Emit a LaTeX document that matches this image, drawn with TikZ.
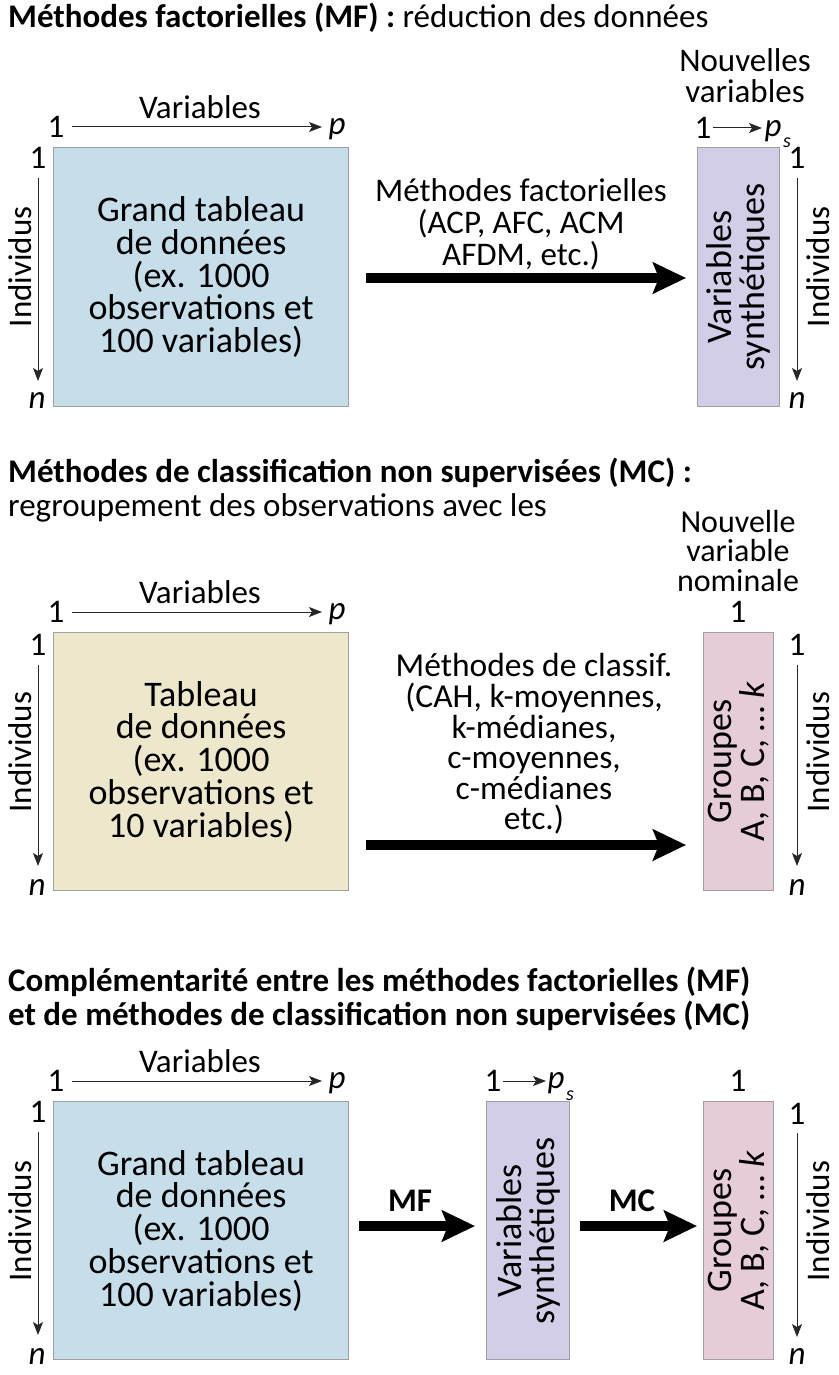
\documentclass[tikz,border=0pt]{standalone}
\usepackage{fontspec}
\setmainfont{Carlito}
\usetikzlibrary{arrows.meta}
\definecolor{cblue}{HTML}{C6DDEA}
\definecolor{clav}{HTML}{D3CEE7}
\definecolor{cbeige}{HTML}{EDE7CB}
\definecolor{cpink}{HTML}{E6CBD9}
\definecolor{cborder}{HTML}{A0A0A0}
\tikzset{
  tbl/.style={draw=cborder, line width=1.2pt, inner sep=0pt, align=center,
    font=\fontsize{36}{32.8}\selectfont},
  lbl/.style={inner sep=0pt, font=\fontsize{33}{32}\selectfont},
  sub/.style={inner sep=0pt, font=\fontsize{20}{20}\selectfont\itshape},
  mtxt/.style={inner sep=0pt, align=center, font=\fontsize{33}{32}\selectfont},
  rtxt/.style={inner sep=0pt, align=center, rotate=90, font=\fontsize{36}{33}\selectfont},
  ttl/.style={inner sep=0pt, anchor=west, font=\fontsize{33}{34}\selectfont},
  thinarrow/.style={draw=black!85, line width=1pt, -{Stealth[length=13pt,width=10pt,inset=3pt]}},
  bigarrow/.style={draw=black, line width=9.5pt, -{Stealth[length=33pt,width=31pt,inset=6pt]}},
}
\begin{document}
\begin{tikzpicture}[x=1pt,y=-1pt]
\useasboundingbox (0,0) rectangle (838,1375);
% ---------------- Section 1 ----------------
\node[ttl] (t1) at (8,18) {\textbf{Méthodes factorielles (MF) :} réduction des données};
\node[tbl, fill=cblue, minimum width=295pt, minimum height=259pt, anchor=north west] (B1) at (53,147)
  {Grand tableau\\de données\\(ex. 1000\\observations et\\100 variables)};
\node[lbl] (v1) at (200,107) {Variables};
\node[lbl] (o1) at (56,127) {1};
\node[lbl] (p1) at (337,129) {\textit{p}};
\draw[thinarrow] (72,127) -- (322,127);
\node[lbl] (l1a) at (38,158) {1};
\node[lbl] (l1n) at (37,401) {\textit{n}};
\draw[thinarrow] (38,178) -- (38,381);
\node[lbl, rotate=90] (i1l) at (20,267) {Individus};
\node[mtxt] (m1) at (521,224) {Méthodes factorielles\\(ACP, AFC, ACM\\AFDM, etc.)};
\draw[bigarrow] (366,278) -- (686,278);
\node[tbl, fill=clav, minimum width=82pt, minimum height=259pt, anchor=north west] (S1) at (697,147) {};
\node[rtxt] (s1t) at (S1.center) {Variables\\synthétiques};
\node[mtxt, font=\fontsize{33}{31}\selectfont] (nv1) at (745,76) {Nouvelles\\variables};
\node[lbl] (o1r) at (703,128) {1};
\node[lbl] (ps1) at (773,131) {\textit{p}};
\node[sub] (ps1s) at (787,143) {s};
\draw[thinarrow] (713,128) -- (762,128);
\node[lbl] (r1a) at (797,158) {1};
\node[lbl] (r1n) at (797,401) {\textit{n}};
\draw[thinarrow] (797,178) -- (797,381);
\node[lbl, rotate=90] (i1r) at (818,267) {Individus};
% ---------------- Section 2 ----------------
\node[ttl] (t2a) at (8,473) {\textbf{Méthodes de classification non supervisées (MC) :}};
\node[ttl] (t2b) at (8,508) {regroupement des observations avec les};
\node[tbl, fill=cbeige, minimum width=295pt, minimum height=258pt, anchor=north west] (B2) at (53,632)
  {Tableau\\de données\\(ex. 1000\\observations et\\10 variables)};
\node[lbl] (v2) at (200,592) {Variables};
\node[lbl] (o2) at (56,612) {1};
\node[lbl] (p2) at (337,614) {\textit{p}};
\draw[thinarrow] (72,612) -- (322,612);
\node[lbl] (l2a) at (38,645) {1};
\node[lbl] (l2n) at (37,887) {\textit{n}};
\draw[thinarrow] (38,665) -- (38,866);
\node[lbl, rotate=90] (i2l) at (20,752) {Individus};
\node[mtxt, font=\fontsize{33.5}{30.6}\selectfont] (m2) at (534,744)
  {Méthodes de classif.\\(CAH, k-moyennes,\\k-médianes,\\c-moyennes,\\c-médianes\\etc.)};
\draw[bigarrow] (366,845) -- (686,845);
\node[tbl, fill=cpink, minimum width=70pt, minimum height=258pt, anchor=north west] (G2) at (703,632) {};
\node[rtxt] (g2t) at (G2.center) {Groupes\\A, B, C, … \textit{k}};
\node[mtxt, font=\fontsize{32}{29.5}\selectfont] (nv2) at (738,551) {Nouvelle\\variable\\nominale};
\node[lbl] (o2r) at (738,612) {1};
\node[lbl] (r2a) at (797,645) {1};
\node[lbl] (r2n) at (797,887) {\textit{n}};
\draw[thinarrow] (797,665) -- (797,866);
\node[lbl, rotate=90] (i2r) at (818,752) {Individus};
% ---------------- Section 3 ----------------
\node[ttl] (t3a) at (8,982) {\textbf{Complémentarité entre les méthodes factorielles (MF)}};
\node[ttl] (t3b) at (8,1016) {\textbf{et de méthodes de classification non supervisées (MC)}};
\node[tbl, fill=cblue, minimum width=295pt, minimum height=258pt, anchor=north west] (B3) at (53,1101)
  {Grand tableau\\de données\\(ex. 1000\\observations et\\100 variables)};
\node[lbl] (v3) at (200,1061) {Variables};
\node[lbl] (o3) at (56,1081) {1};
\node[lbl] (p3) at (337,1083) {\textit{p}};
\draw[thinarrow] (72,1081) -- (322,1081);
\node[lbl] (l3a) at (38,1112) {1};
\node[lbl] (l3n) at (37,1356) {\textit{n}};
\draw[thinarrow] (38,1132) -- (38,1335);
\node[lbl, rotate=90] (i3l) at (20,1221) {Individus};
\node[tbl, fill=clav, minimum width=83pt, minimum height=258pt, anchor=north west] (S3) at (486,1101) {};
\node[rtxt] (s3t) at (S3.center) {Variables\\synthétiques};
\node[lbl] (o3m) at (493,1081) {1};
\node[lbl] (ps3) at (556,1083) {\textit{p}};
\node[sub] (ps3s) at (570,1096) {s};
\draw[thinarrow] (503,1081) -- (546,1081);
\node[tbl, fill=cpink, minimum width=70pt, minimum height=258pt, anchor=north west] (G3) at (703,1101) {};
\node[rtxt] (g3t) at (G3.center) {Groupes\\A, B, C, … \textit{k}};
\node[lbl] (o3r) at (738,1081) {1};
\draw[bigarrow] (359,1226) -- (475,1226);
\node[lbl] (mf) at (410,1201) {\textbf{MF}};
\draw[bigarrow] (580,1226) -- (697,1226);
\node[lbl] (mc) at (632,1201) {\textbf{MC}};
\node[lbl] (r3a) at (797,1114) {1};
\node[lbl] (r3n) at (797,1356) {\textit{n}};
\draw[thinarrow] (797,1133) -- (797,1337);
\node[lbl, rotate=90] (i3r) at (818,1221) {Individus};
\end{tikzpicture}
\end{document}
